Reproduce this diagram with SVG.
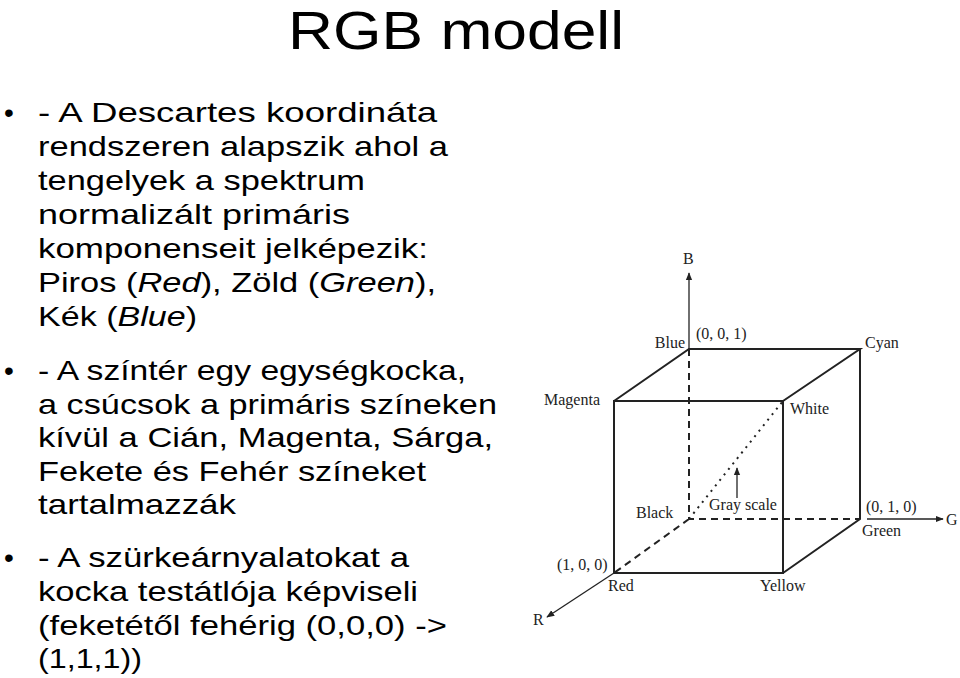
<svg xmlns="http://www.w3.org/2000/svg" width="960" height="678" viewBox="0 0 960 678">
<style>
.t{font-family:"Liberation Sans",Arial,sans-serif;font-size:28px;fill:#000}
.c{font-family:"Liberation Serif","Times New Roman",serif;font-size:16px;fill:#222}
.e{stroke:#222;stroke-width:2;fill:none}
.d{stroke:#222;stroke-width:2;fill:none;stroke-dasharray:7,5}
.a{stroke:#222;stroke-width:1.3;fill:none;marker-end:url(#ar)}
</style>
<defs><marker id="ar" viewBox="0 0 10 10" refX="9" refY="5" markerWidth="8" markerHeight="8" orient="auto" markerUnits="userSpaceOnUse"><path d="M0,1 L10,5 L0,9 z" fill="#222"/></marker></defs>
<rect width="960" height="678" fill="#fff"/>
<text x="288" y="49" font-family="Liberation Sans,Arial,sans-serif" font-size="54" textLength="336" lengthAdjust="spacingAndGlyphs">RGB modell</text>
<g id="text">
<text class="t" x="4" y="122">•</text>
<text class="t" x="38" y="122" textLength="399" lengthAdjust="spacingAndGlyphs">- A Descartes koordináta</text>
<text class="t" x="38" y="156" textLength="410" lengthAdjust="spacingAndGlyphs">rendszeren alapszik ahol a</text>
<text class="t" x="38" y="190" textLength="327" lengthAdjust="spacingAndGlyphs">tengelyek a spektrum</text>
<text class="t" x="38" y="224" textLength="312" lengthAdjust="spacingAndGlyphs">normalizált primáris</text>
<text class="t" x="38" y="258" textLength="390" lengthAdjust="spacingAndGlyphs">komponenseit jelképezik:</text>
<text class="t" x="38" y="292" textLength="398" lengthAdjust="spacingAndGlyphs">Piros (<tspan font-style="italic">Red</tspan>), Zöld (<tspan font-style="italic">Green</tspan>),</text>
<text class="t" x="38" y="326" textLength="159" lengthAdjust="spacingAndGlyphs">Kék (<tspan font-style="italic">Blue</tspan>)</text>
<text class="t" x="4" y="380">•</text>
<text class="t" x="38" y="380" textLength="428" lengthAdjust="spacingAndGlyphs">- A színtér egy egységkocka,</text>
<text class="t" x="38" y="414" textLength="459" lengthAdjust="spacingAndGlyphs">a csúcsok a primáris színeken</text>
<text class="t" x="38" y="447" textLength="455" lengthAdjust="spacingAndGlyphs">kívül a Cián, Magenta, Sárga,</text>
<text class="t" x="38" y="481" textLength="388" lengthAdjust="spacingAndGlyphs">Fekete és Fehér színeket</text>
<text class="t" x="38" y="514" textLength="198" lengthAdjust="spacingAndGlyphs">tartalmazzák</text>
<text class="t" x="4" y="567">•</text>
<text class="t" x="38" y="567" textLength="371" lengthAdjust="spacingAndGlyphs">- A szürkeárnyalatokat a</text>
<text class="t" x="38" y="601" textLength="380" lengthAdjust="spacingAndGlyphs">kocka testátlója képviseli</text>
<text class="t" x="38" y="635" textLength="409" lengthAdjust="spacingAndGlyphs">(feketétől fehérig (0,0,0) -&gt;</text>
<text class="t" x="38" y="668" textLength="104" lengthAdjust="spacingAndGlyphs">(1,1,1))</text>
</g>
<g id="connectors">
<path class="e" d="M614,401 H783 V573 H614 Z M614,401 L689,349 H860 L783,401 M860,349 V519 L783,573"/>
<path class="d" d="M689,349 V519 H860 M689,519 L614,573"/>
<path class="e" d="M689,519 L783,401" stroke-dasharray="2,5"/>
<line class="a" x1="689" y1="349" x2="689" y2="273"/>
<line class="a" x1="867" y1="519" x2="943" y2="519"/>
<line class="a" x1="614" y1="573" x2="547" y2="617"/>
<line class="a" x1="737" y1="498" x2="737" y2="468"/>
</g>
<g id="labels">
<text class="c" x="683" y="264">B</text>
<text class="c" x="685" y="348" text-anchor="end">Blue</text>
<text class="c" x="696" y="339">(0, 0, 1)</text>
<text class="c" x="865" y="348">Cyan</text>
<text class="c" x="544" y="405">Magenta</text>
<text class="c" x="790" y="414">White</text>
<text class="c" x="636" y="518">Black</text>
<text class="c" x="709" y="510">Gray scale</text>
<text class="c" x="866" y="512">(0, 1, 0)</text>
<text class="c" x="946" y="525">G</text>
<text class="c" x="862" y="536">Green</text>
<text class="c" x="557" y="570">(1, 0, 0)</text>
<text class="c" x="608" y="591">Red</text>
<text class="c" x="760" y="591">Yellow</text>
<text class="c" x="533" y="625">R</text>
</g>
</svg>
